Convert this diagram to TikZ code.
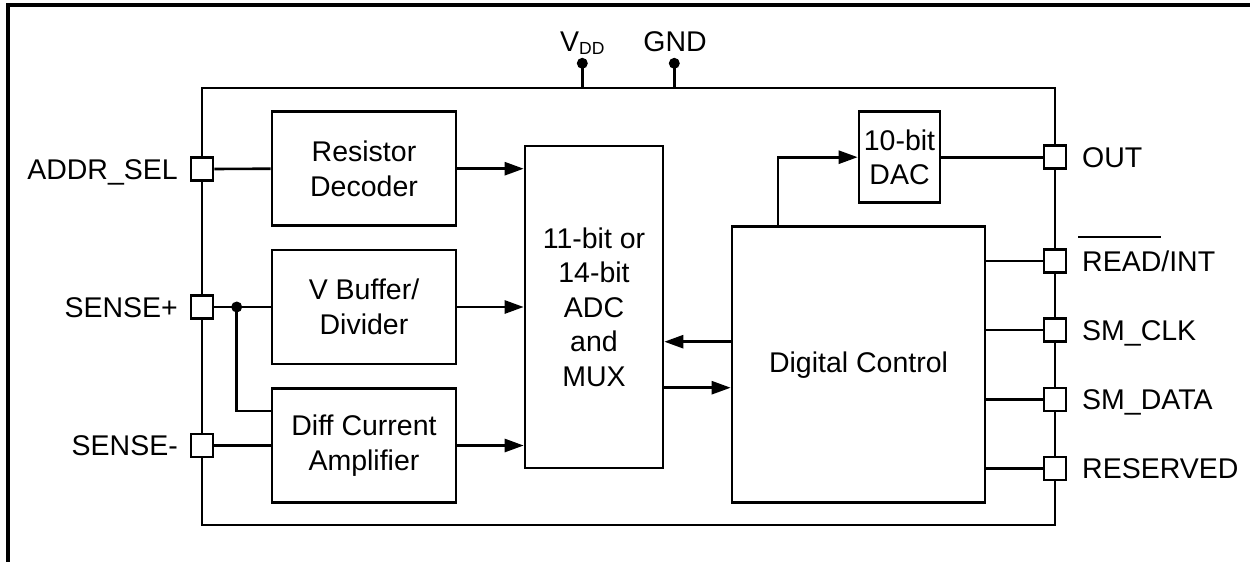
\documentclass[tikz,border=0pt]{standalone}
\usepackage{fontspec}
\setmainfont{Liberation Sans}
\usetikzlibrary{arrows.meta,calc}
\newcommand\myovl[1]{\setbox0\hbox{#1}\rlap{\kern-4pt\rule[33pt]{\dimexpr\wd0+4pt\relax}{2pt}}\box0}
\begin{document}
\begin{tikzpicture}[x=1pt,y=-1pt,
  wire/.style={line width=2.6pt},
  sig/.style={wire,-{Triangle[length=19pt,width=13pt]}},
  blk/.style={draw,line width=2.6pt,inner sep=0pt,align=center,font=\fontsize{28.5}{34.5}\selectfont},
  pinbox/.style={draw,fill=white,line width=2.6pt,minimum width=22pt,minimum height=23pt,inner sep=0pt},
  lbl/.style={inner sep=0pt,font=\fontsize{28.5}{34.5}\selectfont},
  jdot/.style={circle,fill,inner sep=0pt,minimum size=11pt}]
\useasboundingbox (0,0) rectangle (1250,562);
\draw[line width=3.2pt] (8,562) -- (8,5) -- (1250,5);
% chip
\node[draw,line width=2.6pt,minimum width=853pt,minimum height=437pt,inner sep=0pt] (chip) at (628.5,306.5) {};
% blocks
\node[blk,minimum width=184pt,minimum height=114pt] (rd) at (364,168.7) {Resistor\\Decoder};
\node[blk,minimum width=184pt,minimum height=114pt] (vb) at (364,307) {V Buffer/\\Divider};
\node[blk,minimum width=184pt,minimum height=114pt] (da) at (364,445.5) {Diff Current\\Amplifier};
\node[blk,minimum width=138pt,minimum height=322pt] (adc) at (594,307) {11-bit or\\14-bit\\ADC\\and\\MUX};
\node[blk,minimum width=253pt,minimum height=276pt] (dc) at (858.5,364.7) {Digital Control};
\node[blk,minimum width=81pt,minimum height=91pt] (dac) at (899.5,157.2) {10-bit\\DAC};
% pins
\node[pinbox] (pa) at (202,169) {};
\node[pinbox] (pp) at (202,307) {};
\node[pinbox] (pm) at (202,445.5) {};
\node[pinbox] (po) at (1055,157.2) {};
\node[pinbox] (pr) at (1055,261) {};
\node[pinbox] (pc) at (1055,330) {};
\node[pinbox] (pd) at (1055,399.3) {};
\node[pinbox] (pe) at (1055,468.3) {};
% labels
\node[lbl,anchor=base east] (la) at (178,179) {ADDR\_SEL};
\node[lbl,anchor=base east] (lp) at (178,317) {SENSE+};
\node[lbl,anchor=base east] (lm) at (178,455.5) {SENSE-};
\node[lbl,anchor=base west] (lo) at (1082,167.2) {OUT};
\node[lbl,anchor=base west] (lr) at (1082,271) {\myovl{READ}/INT};
\node[lbl,anchor=base west] (lc) at (1082,340) {SM\_CLK};
\node[lbl,anchor=base west] (ld) at (1082,409.3) {SM\_DATA};
\node[lbl,anchor=base west] (le) at (1082,478.3) {RESERVED};
% supply
\node[jdot] (vd) at (582.3,63.3) {};
\node[jdot] (gd) at (674.3,63.3) {};
\draw[wire] (vd.center) -- (vd.center |- chip.north);
\draw[wire] (gd.center) -- (gd.center |- chip.north);
\node[lbl,anchor=base west] (vl) at (560,51) {V\raisebox{-3.3pt}{\fontsize{17.5}{17.5}\selectfont DD}};
\node[lbl,anchor=base] (gl) at (675,51) {GND};
% wires
\draw[wire] (pa.east) -- (rd.west);
\draw[wire] (pp.east) -- (vb.west);
\draw[wire] (pm.east) -- (da.west);
\node[jdot] (jn) at (236.7,307) {};
\draw[wire] (jn.center) |- ([yshift=34.5pt]da.west);
\draw[sig] (rd.east) -- (rd.east -| adc.west);
\draw[sig] (vb.east) -- (vb.east -| adc.west);
\draw[sig] (da.east) -- (da.east -| adc.west);
\draw[sig] ([yshift=23pt]dc.west) -- ([yshift=23pt]dc.west -| adc.east);
\draw[sig] ([yshift=-23pt]dc.west -| adc.east) -- ([yshift=-23pt]dc.west);
\draw[sig] ([xshift=-80.5pt]dc.north) |- (dac.west);
\draw[wire] (dac.east) -- (po.west);
\draw[wire] (pr.west -| dc.east) -- (pr.west);
\draw[wire] (pc.west -| dc.east) -- (pc.west);
\draw[wire] (pd.west -| dc.east) -- (pd.west);
\draw[wire] (pe.west -| dc.east) -- (pe.west);
\end{tikzpicture}
\end{document}
